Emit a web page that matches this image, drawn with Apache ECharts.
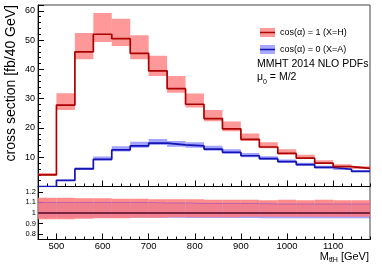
<!DOCTYPE html>
<html><head><meta charset="utf-8">
<script src="https://cdn.jsdelivr.net/npm/echarts@6/dist/echarts.min.js"></script>
<style>html,body{margin:0;padding:0;background:#fff}#c{width:382px;height:267px}</style>
</head><body><div id="c"></div>
<script>
// bin edges (GeV)
const binEdges = [460, 500, 540, 580, 620, 660, 700, 740, 780, 820, 860, 900, 940, 980, 1020, 1060, 1100, 1140, 1180];
// cross sections [fb/40 GeV]
const xsecH = [4.0, 27.8, 46.0, 52.0, 50.5, 45.5, 39.5, 33.4, 28.1, 23.2, 19.7, 16.1, 13.5, 11.3, 9.7, 8.0, 6.8, 6.2];
const xsecA = [0.0, 2.1, 6.0, 9.3, 12.5, 13.9, 14.8, 14.2, 13.9, 12.8, 11.7, 10.5, 9.5, 8.5, 7.5, 6.5, 5.9, 5.2];
// relative scale-uncertainty band edges (ratio panel)
const ratioUpH = [1.145, 1.145, 1.14, 1.14, 1.135, 1.135, 1.13, 1.13, 1.13, 1.125, 1.125, 1.125, 1.12, 1.125, 1.12, 1.125, 1.12, 1.12];
const ratioDnH = [0.94, 0.94, 0.945, 0.95, 0.95, 0.955, 0.955, 0.96, 0.96, 0.96, 0.96, 0.965, 0.965, 0.965, 0.965, 0.965, 0.965, 0.965];
const ratioUpA = [1.10, 1.10, 1.10, 1.10, 1.10, 1.10, 1.095, 1.095, 1.09, 1.09, 1.09, 1.09, 1.085, 1.085, 1.085, 1.085, 1.085, 1.085];
const ratioDnA = [0.955, 0.955, 0.955, 0.955, 0.955, 0.955, 0.955, 0.955, 0.952, 0.952, 0.952, 0.952, 0.95, 0.95, 0.95, 0.95, 0.95, 0.95];
// tick labels
const xTicks = [500, 600, 700, 800, 900, 1000, 1100];
const ratioTicks = [0.8, 0.9, 1, 1.1, 1.2];
const nameH = 'cos(\u03b1) = 1 (X=H)';
const nameA = 'cos(\u03b1) = 0 (X=A)';

const FONT = 'Liberation Sans';
const RED = '#aa0000', BLUE = '#1414b4';
const RED_BAND = 'rgba(255,70,70,0.55)', BLUE_BAND = 'rgba(70,70,255,0.5)';

function stepData(vals) {
  const d = vals.map((v, i) => [binEdges[i], v]);
  d.push([binEdges[binEdges.length - 1], vals[vals.length - 1]]);
  return d;
}
function bandData(vals, up, dn) {
  return vals.map((v, i) => [binEdges[i], binEdges[i + 1], v * dn[i], v * up[i]]);
}
function ratioBand(up, dn) {
  return up.map((u, i) => [binEdges[i], binEdges[i + 1], dn[i], u]);
}
function bandSeries(data, color, xi, yi, z) {
  return {
    type: 'custom', xAxisIndex: xi, yAxisIndex: yi, z: z, clip: true,
    encode: { x: [0, 1], y: [2, 3] },
    renderItem: function (params, api) {
      const p0 = api.coord([api.value(0), api.value(3)]);
      const p1 = api.coord([api.value(1), api.value(2)]);
      return { type: 'rect', shape: { x: p0[0], y: p0[1], width: p1[0] - p0[0], height: p1[1] - p0[1] }, style: { fill: color } };
    },
    data: data
  };
}
function lineSeries(name, data, color, width, xi, yi, z) {
  return { name: name, type: 'line', step: 'end', xAxisIndex: xi, yAxisIndex: yi, z: z, data: data,
    showSymbol: false, symbol: 'none', lineStyle: { color: color, width: width }, itemStyle: { color: color } };
}
function svgIcon(fill, line) {
  const s = "<svg xmlns='http://www.w3.org/2000/svg' width='30' height='18'><rect width='30' height='18' fill='" + fill + "'/><rect y='7.5' width='30' height='3' fill='" + line + "'/></svg>";
  return 'image://data:image/svg+xml;charset=utf-8,' + encodeURIComponent(s);
}

const gridTop = { left: 38, right: 12, top: 5, height: 181.5, show: true, borderColor: '#444', borderWidth: 1 };
const gridBot = { left: 38, right: 12, top: 186.5, bottom: 27.5, show: true, borderColor: '#444', borderWidth: 1 };

function mainX(grid, labels) {
  return { type: 'value', gridIndex: grid, min: 460, max: 1180, position: 'bottom',
    axisLine: { show: true, onZero: false, lineStyle: { color: '#000', width: 1 } },
    axisTick: { show: true, inside: true, length: 6, customValues: xTicks, lineStyle: { color: '#000' } },
    axisLabel: { show: labels, customValues: xTicks, margin: 2, fontFamily: FONT, fontSize: 9.5, color: '#000',
      formatter: function (v) { return String(v); } },
    splitLine: { show: false } };
}
function minorX(grid) {
  return { type: 'value', gridIndex: grid, min: 460, max: 1180, interval: 20, position: 'bottom',
    axisLine: { show: false }, axisLabel: { show: false }, splitLine: { show: false },
    axisTick: { show: true, inside: true, length: 3, lineStyle: { color: '#000' } } };
}

const option = {
  animation: false,
  backgroundColor: '#fff',
  grid: [gridTop, gridBot],
  xAxis: [mainX(0, false), minorX(0), mainX(1, true), minorX(1)],
  yAxis: [
    { type: 'value', gridIndex: 0, min: 0, max: 62, interval: 10,
      axisLine: { show: true, onZero: false, lineStyle: { color: '#000' } },
      axisTick: { show: true, inside: true, length: 6, lineStyle: { color: '#000' } },
      minorTick: { show: true, splitNumber: 5, length: 3, lineStyle: { color: '#000' } },
      axisLabel: { showMinLabel: false, showMaxLabel: false, margin: 3, fontFamily: FONT, fontSize: 9, color: '#000' },
      splitLine: { show: false } },
    { type: 'value', gridIndex: 1, min: 0.75, max: 1.25,
      axisLine: { show: true, onZero: false, lineStyle: { color: '#000' } },
      axisTick: { show: true, inside: true, length: 5, customValues: ratioTicks, lineStyle: { color: '#000' } },
      axisLabel: { customValues: ratioTicks, margin: 2, fontFamily: FONT, fontSize: 7.5, color: '#000',
        formatter: function (v) { return String(Math.round(v * 10) / 10); } },
      splitLine: { show: false } }
  ],
  legend: {
    orient: 'vertical', left: 255, top: 23, itemWidth: 15, itemHeight: 9, itemGap: 8,
    selectedMode: false,
    textStyle: { fontFamily: FONT, fontSize: 9, color: '#000' },
    data: [ { name: nameH, icon: svgIcon('#ff9a9a', RED) }, { name: nameA, icon: svgIcon('#a8a8ff', BLUE) } ]
  },
  graphic: [
    { type: 'text', x: 11, y: 5, rotation: Math.PI / 2, style: { text: 'cross section [fb/40 GeV]', font: '14px "Liberation Sans"', align: 'right', verticalAlign: 'middle', fill: '#000' } },
    { type: 'text', x: 257, y: 64, style: { text: 'MMHT 2014 NLO PDFs', font: '10.5px "Liberation Sans"', verticalAlign: 'middle', fill: '#000' } },
    { type: 'text', x: 257, y: 72, style: { text: '{a|\u03bc}{s|0}{a| = M/2}', verticalAlign: 'top', fill: '#000',
        rich: { a: { fontFamily: FONT, fontSize: 10.5, lineHeight: 12, verticalAlign: 'top' }, s: { fontFamily: FONT, fontSize: 7, lineHeight: 12, padding: [8, 0, 0, 0] } } } },
    { type: 'text', x: 369, y: 250, style: { text: '{a|M}{s|tt\u0304H}{a| [GeV]}', align: 'right', verticalAlign: 'top', fill: '#000',
        rich: { a: { fontFamily: FONT, fontSize: 11, lineHeight: 13 }, s: { fontFamily: FONT, fontSize: 7, lineHeight: 13, padding: [8, 0, 0, 0] } } } }
  ],
  series: [
    Object.assign(bandSeries(bandData(xsecA, ratioUpA, ratioDnA), BLUE_BAND, 0, 0, 1), { name: nameA }),
    Object.assign(bandSeries(bandData(xsecH, ratioUpH, ratioDnH), RED_BAND, 0, 0, 2), { name: nameH }),
    lineSeries(nameA, stepData(xsecA), BLUE, 1.7, 0, 0, 3),
    lineSeries(nameH, stepData(xsecH), RED, 1.7, 0, 0, 4),
    bandSeries(ratioBand(ratioUpA, ratioDnA), BLUE_BAND, 2, 1, 1),
    bandSeries(ratioBand(ratioUpH, ratioDnH), 'rgba(255,120,120,0.85)', 2, 1, 2),
    lineSeries('', stepData(ratioUpA), 'rgba(140,70,200,0.55)', 1, 2, 1, 3),
    lineSeries('', stepData(xsecA.map(() => 1)), BLUE, 2, 2, 1, 4),
    lineSeries('', stepData(xsecH.map((v) => v / v)), 'rgba(150,40,40,0.8)', 2, 2, 1, 5)
  ]
};
const chart = echarts.init(document.getElementById('c'), null, { renderer: 'canvas' });
chart.setOption(option);
</script></body></html>
